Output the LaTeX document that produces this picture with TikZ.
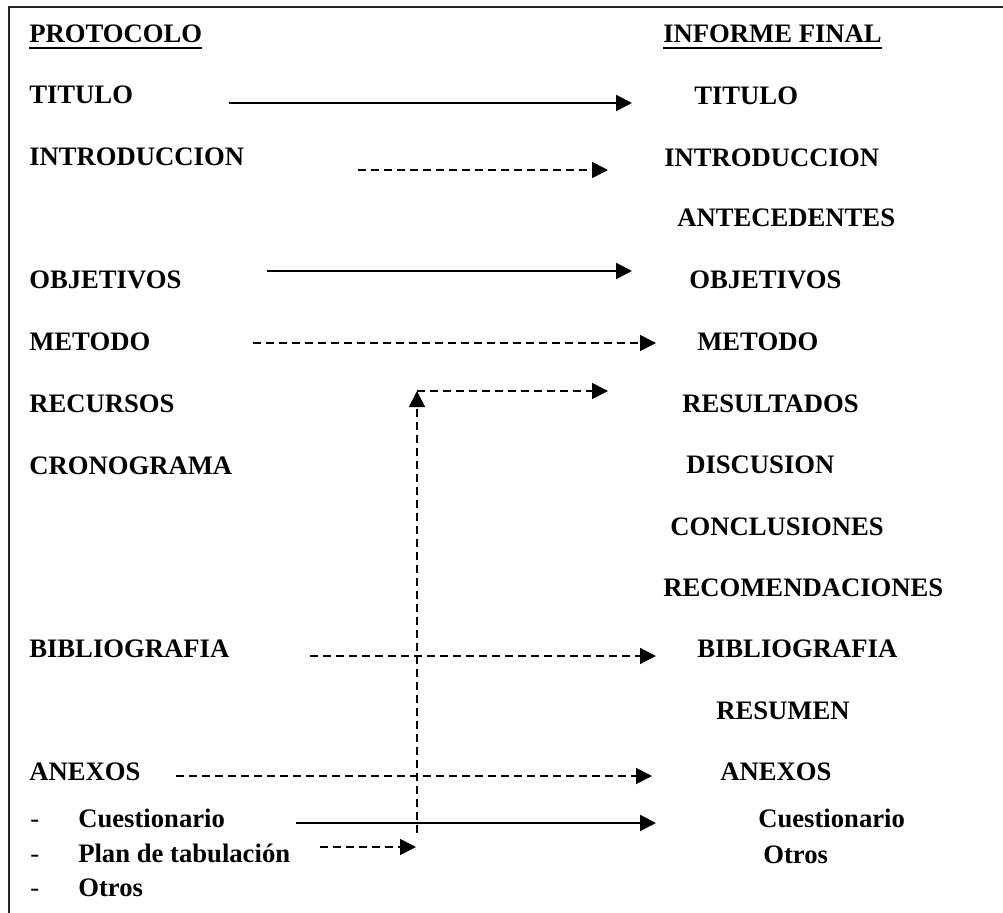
\documentclass[tikz,border=0pt]{standalone}
\usepackage{fontspec}
\setmainfont{Liberation Serif}
\usetikzlibrary{arrows.meta}
\tikzset{item/.style={anchor=base west, inner sep=0pt, font=\fontsize{20}{24}\selectfont\bfseries}}
\tikzset{full/.style={line width=1.6pt, -{Triangle[length=12pt,width=12pt]}}}
\tikzset{broken/.style={line width=1.3pt, dash pattern=on 6pt off 3.75pt, -{Triangle[length=12pt,width=12pt]}}}

\begin{document}
\begin{tikzpicture}[x=0.75pt,y=-0.75pt]
\useasboundingbox (0,0) rectangle (1003,913);

% Frame: only top and left side
\draw[line width=1.5pt, black!85] (1003,7) -- (9,7) -- (9,913);

% Left column
\node[item] (pHead)  at (29,43)  {PROTOCOLO};
\node[item] (pTit)   at (29,104) {TITULO};
\node[item] (pIntro) at (29,166) {INTRODUCCION};
\node[item] (pObj)   at (29,288) {OBJETIVOS};
\node[item] (pMet)   at (29,350) {METODO};
\node[item] (pRec)   at (29,412) {RECURSOS};
\node[item] (pCron)  at (29,474) {CRONOGRAMA};
\node[item] (pBib)   at (29,657) {BIBLIOGRAFIA};
\node[item] (pAnx)   at (29,780) {ANEXOS};
\node[item, font=\fontsize{20}{24}\selectfont] (pDashA) at (30,827) {-};
\node[item, font=\fontsize{20}{24}\selectfont] (pDashB) at (30,862) {-};
\node[item, font=\fontsize{20}{24}\selectfont] (pDashC) at (30,896) {-};
\node[item] (pCue)   at (78,827) {Cuestionario};
\node[item] (pPlan)  at (78,862) {Plan de tabulación};
\node[item] (pOtros) at (78,896) {Otros};

% Right column
\node[item] (iHead)  at (663,43)  {INFORME FINAL};
\node[item] (iTit)   at (694,105) {TITULO};
\node[item] (iIntro) at (664,167) {INTRODUCCION};
\node[item] (iAnt)   at (677,227) {ANTECEDENTES};
\node[item] (iObj)   at (689,288) {OBJETIVOS};
\node[item] (iMet)   at (697,350) {METODO};
\node[item] (iRes)   at (682,412) {RESULTADOS};
\node[item] (iDisc)  at (686,473) {DISCUSION};
\node[item] (iConc)  at (670,535) {CONCLUSIONES};
\node[item] (iRecom) at (663,596) {RECOMENDACIONES};
\node[item] (iBib)   at (697,657) {BIBLIOGRAFIA};
\node[item] (iResum) at (716,719) {RESUMEN};
\node[item] (iAnx)   at (720,780) {ANEXOS};
\node[item] (iCue)   at (758,827) {Cuestionario};
\node[item] (iOtros) at (763,863) {Otros};

% Underlined headings
\draw[line width=1.5pt] ([yshift=-3.75pt]pHead.base west) -- ([yshift=-3.75pt]pHead.base east);
\draw[line width=1.5pt] ([yshift=-3.75pt]iHead.base west) -- ([yshift=-3.75pt]iHead.base east);

\path % arrow ends
  (229,103) coordinate (titA)   (632,103) coordinate (titB)
  (358,170) coordinate (introA) (608,170) coordinate (introB)
  (267,271) coordinate (objA)   (632,271) coordinate (objB)
  (253,343) coordinate (metA)   (656,343) coordinate (metB)
  (417,833) coordinate (resA)   (417,391) coordinate (resC)
  (608,391) coordinate (resB)
  (310,656) coordinate (bibA)   (656,656) coordinate (bibB)
  (176,776) coordinate (anxA)   (652,776) coordinate (anxB)
  (296,823) coordinate (cueA)   (656,823) coordinate (cueB)
  (320,847) coordinate (planA)  (416,847) coordinate (planB)
  ;

% Arrows
\draw[full]   (titA) -- (titB);
\draw[broken] (introA) -- (introB);
\draw[full]   (objA) -- (objB);
\draw[broken] (metA) -- (metB);
\draw[broken] (resA) -- (resC);
\draw[broken] (resC) -- (resB);
\draw[broken] (bibA) -- (bibB);
\draw[broken] (anxA) -- (anxB);
\draw[full]   (cueA) -- (cueB);
\draw[broken] (planA) -- (planB);

\end{tikzpicture}
\end{document}
